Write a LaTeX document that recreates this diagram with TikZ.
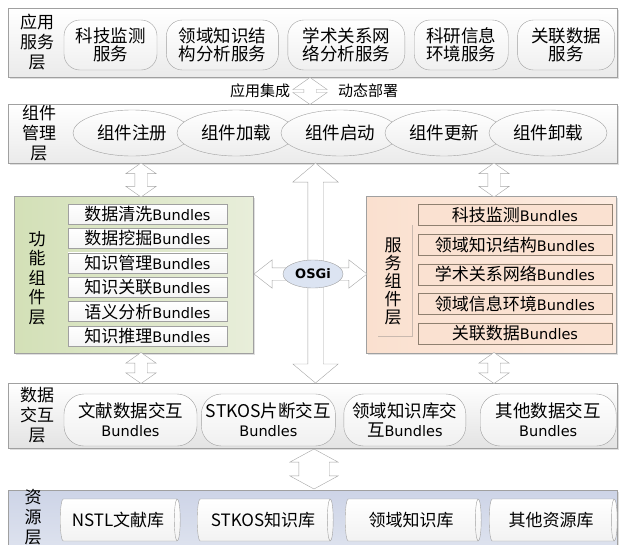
\documentclass[tikz,border=0pt]{standalone}
\usepackage{fontspec}
\setmainfont{Noto Sans CJK SC}
\newfontfamily\lat{DejaVu Sans}
\newcommand{\bdl}{\lat\fontsize{14.5}{18}\selectfont}
\usetikzlibrary{positioning, shapes.geometric, shapes.arrows, shadows}
\definecolor{linegray}{HTML}{A0A0A0}
\definecolor{greenL}{HTML}{D3E0B7}
\definecolor{greenR}{HTML}{E8EEDA}
\definecolor{peachL}{HTML}{FAE0CF}
\definecolor{peachR}{HTML}{FDECE1}
\definecolor{peachBox}{HTML}{FAE1D1}
\definecolor{resTop}{HTML}{CDD4E7}
\definecolor{resBot}{HTML}{DDE2EE}
\definecolor{osgiBlue}{HTML}{DCE4F2}

\begin{document}
\begin{tikzpicture}[x=1pt, y=-1pt,
    layer/.style = {draw=linegray, top color=white, bottom color=gray!16,
        drop shadow={shadow xshift=1.5pt, shadow yshift=-1.5pt, opacity=0.25},
        minimum width=609pt},
    panel/.style = {draw=linegray,
        drop shadow={shadow xshift=1.5pt, shadow yshift=-1.5pt, opacity=0.25}},
    tag/.style = {align=center, inner sep=0pt, font=\fontsize{17}{20}\selectfont},
    note/.style = {font=\fontsize{15}{18}\selectfont},
    service/.style = {draw=linegray, rounded corners=16pt, top color=white,
        bottom color=gray!12, align=center, minimum height=50pt, inner sep=2pt,
        font=\fontsize{17.5}{18}\selectfont},
    part/.style = {ellipse, draw=linegray, top color=white, bottom color=gray!14,
        minimum width=118pt, minimum height=46pt, font=\fontsize{17.5}{20}\selectfont},
    bundle/.style = {draw=linegray, top color=white, bottom color=gray!8,
        minimum height=20pt, inner sep=0pt, font=\fontsize{17}{18}\selectfont},
    sbundle/.style = {bundle, draw=gray!75!brown, top color=peachBox, bottom color=peachBox,
        minimum height=21pt},
    exchange/.style = {draw=linegray, rounded corners=20pt, top color=white,
        bottom color=gray!12, align=center, minimum height=52pt, inner sep=2pt,
        font=\fontsize{17.5}{19}\selectfont},
    store/.style = {cylinder, aspect=0.3, draw=linegray, top color=white,
        bottom color=gray!10, minimum width=42pt, inner sep=2pt,
        font=\fontsize{17}{20}\selectfont},
    link/.style = {double arrow, draw=gray!70, fill=white, inner xsep=0pt, rotate=90}
]
\useasboundingbox (0,0) rectangle (621,544);

% layers
\node (app) [layer, minimum height=69pt] at (312.5,42.5) {};
\node (mgr) [layer, minimum height=59pt] at (312.5,133.5) {};
\node (data) [layer, bottom color=gray!22, minimum height=65pt] at (312.5,415.5) {};
\node (res) [layer, top color=resTop, bottom color=resBot, minimum height=56pt] at (312.5,518) {};
\node (func) [panel, left color=greenL, right color=greenR, minimum width=239pt,
    minimum height=157pt] at (133.5,274.5) {};
\node (serv) [panel, left color=peachL, right color=peachR, minimum width=250pt,
    minimum height=157pt] at (491,274.5) {};

% application services
\node (appTag) [tag] at (37,42) {应用\\服务\\层};
\node (s1) [service, minimum width=93pt] at (110.5,45) {科技监测\\服务};
\node (s2) [service, minimum width=112pt, right=9pt of s1] {领域知识结\\构分析服务};
\node (s3) [service, minimum width=117pt, right=9pt of s2] {学术关系网\\络分析服务};
\node (s4) [service, minimum width=94pt, right=9pt of s3] {科研信息\\环境服务};
\node (s5) [service, minimum width=97pt, right=9pt of s4] {关联数据\\服务};

\node (deploy) [link, minimum height=27pt, inner ysep=6pt,
    double arrow head extend=11pt, double arrow tip angle=110] at (310,91) {};
\node (integ) [note] at (260,91) {应用集成};
\node (dyn) [note] at (368,91) {动态部署};

% component management
\node (mgrTag) [tag] at (39,133) {组件\\管理\\层};
\node (c1) [part] at (132,133) {组件注册};
\node (c2) [part, on grid, right=104pt of c1] {组件加载};
\node (c3) [part, on grid, right=104pt of c2] {组件启动};
\node (c4) [part, on grid, right=104pt of c3] {组件更新};
\node (c5) [part, on grid, right=104pt of c4] {组件卸载};

% block arrows
\node (upL) [link, minimum height=34pt, inner ysep=6pt,
    double arrow head extend=9pt, double arrow tip angle=110] at (141,180) {};
\node (upR) [link, minimum height=34pt, inner ysep=6pt,
    double arrow head extend=9pt, double arrow tip angle=110] at (494,180) {};
\node (downL) [link, minimum height=31pt, inner ysep=6pt,
    double arrow head extend=9pt, double arrow tip angle=110] at (141,368) {};
\node (downR) [link, minimum height=31pt, inner ysep=6pt,
    double arrow head extend=9pt, double arrow tip angle=110] at (494,368) {};
\node (bus) [link, minimum height=220pt, inner ysep=7.5pt,
    double arrow head extend=15pt, double arrow tip angle=100] at (315.5,273) {};
\node (side) [link, rotate=-90, minimum height=113pt, inner ysep=6pt,
    double arrow head extend=8pt, double arrow tip angle=76] at (310.5,274) {};
\node (base) [link, minimum height=40pt, inner ysep=15pt,
    double arrow head extend=9pt, double arrow tip angle=123] at (314,469) {};
\node (osgi) [ellipse, draw=linegray, fill=osgiBlue, minimum width=60pt,
    minimum height=28pt, inner sep=0pt, font=\lat\bfseries\fontsize{13}{15}\selectfont]
    at (313,274) {OSGi};

% function bundles
\node (funcTag) [tag, font=\fontsize{17}{19.5}\selectfont] at (37,278) {功\\能\\组\\件\\层};
\node (f1) [bundle, minimum width=159pt] at (147.5,214) {数据清洗{\bdl Bundles}};
\node (f2) [bundle, minimum width=159pt, on grid, below=24.4pt of f1] {数据挖掘{\bdl Bundles}};
\node (f3) [bundle, minimum width=159pt, on grid, below=24.4pt of f2] {知识管理{\bdl Bundles}};
\node (f4) [bundle, minimum width=159pt, on grid, below=24.4pt of f3] {知识关联{\bdl Bundles}};
\node (f5) [bundle, minimum width=159pt, on grid, below=24.4pt of f4] {语义分析{\bdl Bundles}};
\node (f6) [bundle, minimum width=159pt, on grid, below=24.4pt of f5] {知识推理{\bdl Bundles}};

% service bundles
\draw [peachL!60!gray, thin] (378,336) -- (412,336) -- (412,225);
\node (servTag) [tag, font=\fontsize{17}{18}\selectfont] at (393,281) {服\\务\\组\\件\\层};
\node (b1) [sbundle, minimum width=194pt] at (515,215) {科技监测{\bdl Bundles}};
\node (b2) [sbundle, minimum width=194pt, on grid, below=29.6pt of b1] {领域知识结构{\bdl Bundles}};
\node (b3) [sbundle, minimum width=194pt, on grid, below=29.6pt of b2] {学术关系网络{\bdl Bundles}};
\node (b4) [sbundle, minimum width=194pt, on grid, below=29.6pt of b3] {领域信息环境{\bdl Bundles}};
\node (b5) [sbundle, minimum width=194pt, on grid, below=29.6pt of b4] {关联数据{\bdl Bundles}};

% data exchange
\node (dataTag) [tag] at (37,415) {数据\\交互\\层};
\node (d1) [exchange, minimum width=133pt] at (130.5,420) {文献数据交互\\{\bdl Bundles}};
\node (d2) [exchange, minimum width=134pt, right=4pt of d1] {STKOS片断交互\\{\bdl Bundles}};
\node (d3) [exchange, minimum width=122pt, right=8pt of d2] {领域知识库交\\互{\bdl Bundles}};
\node (d4) [exchange, minimum width=136pt, right=14pt of d3] {其他数据交互\\{\bdl Bundles}};

% resources
\node (resTag) [tag] at (33,517) {资\\源\\层};
\node (r1) [store, minimum height=120pt] at (118,520) {NSTL文献库};
\node (r2) [store, minimum height=136pt] at (263,520) {STKOS知识库};
\node (r3) [store, minimum height=136pt] at (411,520) {领域知识库};
\node (r4) [store, minimum height=128pt] at (551,520) {其他资源库};
\end{tikzpicture}
\end{document}
